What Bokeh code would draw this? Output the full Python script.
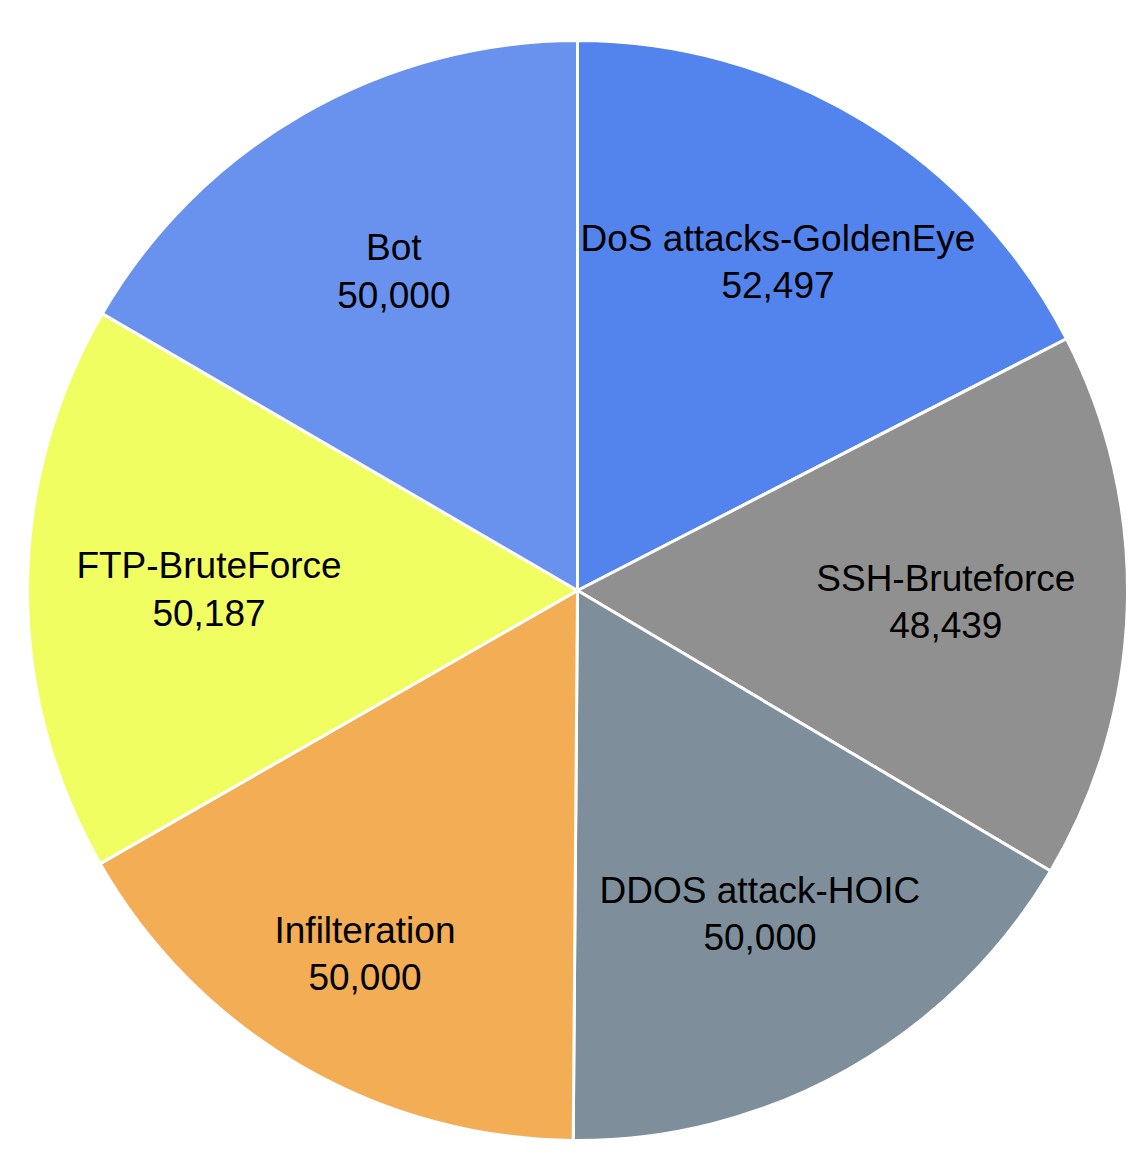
import math
from bokeh.plotting import figure
from bokeh.models import Range1d, ColumnDataSource
from bokeh.core.properties import value
from bokeh.embed import file_html
from bokeh.resources import INLINE

categories = ["DoS attacks-GoldenEye", "SSH-Bruteforce", "DDOS attack-HOIC",
              "Infilteration", "FTP-BruteForce", "Bot"]
counts = [52497, 48439, 50000, 50000, 50187, 50000]
colors = ["#5383EC", "#909090", "#7E8F9B", "#F2AD55", "#F0FE62", "#6892EE"]
label_r_frac = [0.70, 0.67, 0.675, 0.765, 0.67, 0.67]

W, H = 1148, 1166
cx, cy, R = 577, H - 590, 550

total = sum(counts)
starts, ends, mids = [], [], []
a = math.pi / 2
for c in counts:
    span = 2 * math.pi * c / total
    starts.append(a)
    ends.append(a - span)
    mids.append(a - span / 2)
    a -= span

lx = [cx + f * R * math.cos(m) for f, m in zip(label_r_frac, mids)]
ly_name = [cy + f * R * math.sin(m) + 23.5 for f, m in zip(label_r_frac, mids)]
ly_val = [cy + f * R * math.sin(m) - 23.5 for f, m in zip(label_r_frac, mids)]
val_txt = [f"{c:,}" for c in counts]

src = ColumnDataSource(dict(start=starts, end=ends, color=colors, cat=categories,
                            lx=lx, lyn=ly_name, lyv=ly_val, val=val_txt))

p = figure(width=W, height=H, output_backend="svg", toolbar_location=None,
           x_range=Range1d(0, W), y_range=Range1d(0, H), min_border=0)
p.axis.visible = False
p.grid.visible = False
p.outline_line_color = None
p.background_fill_color = "white"
p.border_fill_color = "white"

p.wedge(x=cx, y=cy, radius=R, start_angle="start", end_angle="end", direction="clock",
        fill_color="color", line_color="white", line_width=3, source=src)

common = dict(text_font=value("Liberation Sans"), text_font_size="37px",
              text_align="center", text_baseline="middle", text_color="black")
p.text(x="lx", y="lyn", text="cat", source=src, **common)
p.text(x="lx", y="lyv", text="val", source=src, **common)

open("out.html", "w").write(file_html(p, INLINE))
